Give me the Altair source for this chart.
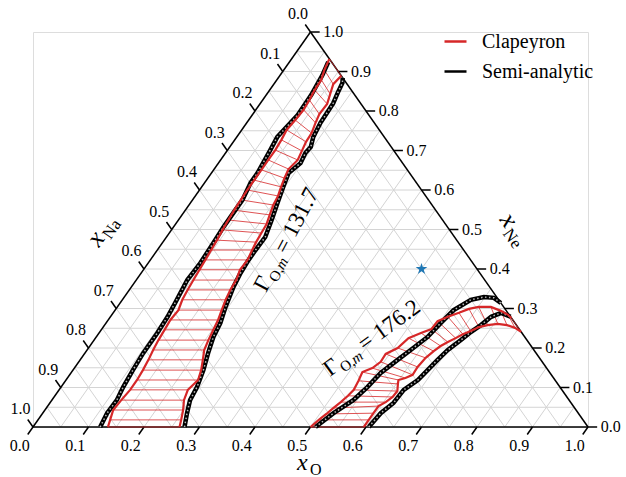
import altair as alt
import pandas as pd

FONT = "Liberation Serif"
RED = "#d62728"
W, H = 555, 395

# ---------------- data: ternary compositions (x_O, x_Ne); x_Na = 1 - x_O - x_Ne ----------------
# Gamma_O,m = 131.7 -- Clapeyron coexisting compositions (tie-line end points)
c1_left_xNe = [0.000, 0.018, 0.043, 0.068, 0.094, 0.119, 0.144, 0.170, 0.195, 0.220, 0.246, 0.271, 0.296,
               0.322, 0.347, 0.372, 0.398, 0.423, 0.448, 0.473, 0.499, 0.524, 0.549, 0.575, 0.600, 0.625,
               0.651, 0.676, 0.701, 0.727, 0.752, 0.777, 0.803, 0.828, 0.853, 0.879, 0.904, 0.932]
c1_left_xO = [0.135, 0.130, 0.123, 0.125, 0.128, 0.128, 0.126, 0.123, 0.119, 0.116, 0.114, 0.112, 0.114,
              0.108, 0.105, 0.103, 0.101, 0.099, 0.097, 0.095, 0.092, 0.090, 0.088, 0.087, 0.086, 0.086,
              0.086, 0.086, 0.086, 0.084, 0.081, 0.084, 0.086, 0.084, 0.081, 0.080, 0.073, 0.068]
c1_right_xNe = [0.000, 0.018, 0.043, 0.068, 0.094, 0.119, 0.144, 0.170, 0.195, 0.220, 0.246, 0.271, 0.296,
                0.322, 0.347, 0.372, 0.398, 0.423, 0.448, 0.468, 0.491, 0.514, 0.537, 0.562, 0.585, 0.608,
                0.630, 0.653, 0.676, 0.699, 0.722, 0.744, 0.770, 0.792, 0.818, 0.843, 0.868, 0.889]
c1_right_xO = [0.264, 0.258, 0.249, 0.238, 0.232, 0.238, 0.231, 0.221, 0.211, 0.206, 0.202, 0.198, 0.192,
               0.186, 0.182, 0.180, 0.174, 0.175, 0.171, 0.168, 0.166, 0.164, 0.158, 0.152, 0.149, 0.143,
               0.138, 0.134, 0.139, 0.135, 0.131, 0.130, 0.124, 0.120, 0.121, 0.114, 0.107, 0.111]
# Gamma_O,m = 131.7 -- semi-analytic boundaries
s1_left_xNe = [0.000, 0.035, 0.068, 0.101, 0.144, 0.187, 0.238, 0.279, 0.314, 0.372, 0.415, 0.466, 0.506,
               0.542, 0.575, 0.618, 0.643, 0.701, 0.734, 0.790, 0.841, 0.891, 0.924]
s1_left_xO = [0.121, 0.116, 0.117, 0.112, 0.108, 0.105, 0.105, 0.103, 0.099, 0.092, 0.094, 0.092, 0.090,
              0.090, 0.090, 0.083, 0.083, 0.077, 0.073, 0.082, 0.081, 0.076, 0.070]
s1_right_xNe = [0.000, 0.035, 0.068, 0.101, 0.144, 0.187, 0.228, 0.263, 0.304, 0.354, 0.390, 0.423, 0.448,
                0.481, 0.524, 0.567, 0.608, 0.643, 0.668, 0.694, 0.709, 0.734, 0.770, 0.798, 0.820, 0.846,
                0.871, 0.884]
s1_right_xO = [0.273, 0.260, 0.249, 0.245, 0.235, 0.222, 0.211, 0.206, 0.195, 0.184, 0.179, 0.177, 0.177,
               0.178, 0.168, 0.157, 0.147, 0.139, 0.148, 0.144, 0.146, 0.138, 0.133, 0.132, 0.131, 0.126,
               0.122, 0.116]

# Gamma_O,m = 176.2 -- Clapeyron coexisting compositions
c2_up_xNe = [0.000, 0.018, 0.033, 0.048, 0.063, 0.079, 0.094, 0.117, 0.139, 0.149, 0.165, 0.185, 0.200,
             0.225, 0.238, 0.248, 0.268, 0.279, 0.289, 0.299, 0.304, 0.304, 0.294, 0.284, 0.276]
c2_up_xO = [0.500, 0.506, 0.512, 0.517, 0.523, 0.528, 0.531, 0.528, 0.524, 0.537, 0.544, 0.543, 0.557,
            0.564, 0.580, 0.594, 0.595, 0.608, 0.623, 0.636, 0.651, 0.673, 0.696, 0.714, 0.724]
c2_lo_xNe = [0.000, 0.018, 0.035, 0.053, 0.063, 0.076, 0.091, 0.109, 0.119, 0.124, 0.132, 0.152, 0.175,
             0.192, 0.205, 0.215, 0.225, 0.235, 0.243, 0.253, 0.258, 0.261, 0.258, 0.251, 0.241]
c2_lo_xO = [0.596, 0.596, 0.596, 0.596, 0.604, 0.610, 0.611, 0.603, 0.599, 0.609, 0.618, 0.617, 0.620,
            0.626, 0.632, 0.640, 0.649, 0.657, 0.667, 0.677, 0.690, 0.707, 0.725, 0.743, 0.759]
# Gamma_O,m = 176.2 -- semi-analytic boundaries
s2_up_xNe = [0.000, 0.035, 0.068, 0.101, 0.137, 0.170, 0.195, 0.228, 0.263, 0.296, 0.322, 0.329, 0.327, 0.314]
s2_up_xO = [0.509, 0.524, 0.543, 0.552, 0.558, 0.572, 0.583, 0.597, 0.603, 0.610, 0.628, 0.648, 0.667, 0.686]
s2_lo_xNe = [0.000, 0.035, 0.061, 0.094, 0.119, 0.144, 0.170, 0.195, 0.220, 0.241, 0.258, 0.279, 0.289, 0.279]
s2_lo_xO = [0.605, 0.609, 0.619, 0.621, 0.634, 0.639, 0.644, 0.650, 0.661, 0.669, 0.678, 0.686, 0.699, 0.721]

star_xO = [0.5]
star_xNe = [0.4]

tick_values = [0.0, 0.1, 0.2, 0.3, 0.4, 0.5, 0.6, 0.7, 0.8, 0.9, 1.0]
tick_labels = ["0.0", "0.1", "0.2", "0.3", "0.4", "0.5", "0.6", "0.7", "0.8", "0.9", "1.0"]
grid_values = [0.05, 0.10, 0.15, 0.20, 0.25, 0.30, 0.35, 0.40, 0.45, 0.50,
               0.55, 0.60, 0.65, 0.70, 0.75, 0.80, 0.85, 0.90, 0.95]
methods = ["Clapeyron", "Semi-analytic"]


def cx(xo, xne):
    return xo + xne / 2.0


rows = []
for name, method, xo, xne in [
    ("c1a", "Clapeyron", c1_left_xO, c1_left_xNe), ("c1b", "Clapeyron", c1_right_xO, c1_right_xNe),
    ("c2a", "Clapeyron", c2_up_xO, c2_up_xNe), ("c2b", "Clapeyron", c2_lo_xO, c2_lo_xNe),
    ("s1a", "Semi-analytic", s1_left_xO, s1_left_xNe), ("s1b", "Semi-analytic", s1_right_xO, s1_right_xNe),
    ("s2a", "Semi-analytic", s2_up_xO, s2_up_xNe), ("s2b", "Semi-analytic", s2_lo_xO, s2_lo_xNe),
]:
    for i, (a, b) in enumerate(zip(xo, xne)):
        rows.append({"curve": name, "method": method, "i": i, "X": cx(a, b), "Y": b})
curves = pd.DataFrame(rows)
clap = curves[curves.method == "Clapeyron"]
semi = curves[curves.method == "Semi-analytic"]

ties = []
for xa, ya, xb, yb in [(c1_left_xO, c1_left_xNe, c1_right_xO, c1_right_xNe),
                       (c2_up_xO, c2_up_xNe, c2_lo_xO, c2_lo_xNe)]:
    for a, b, c, d in zip(xa, ya, xb, yb):
        ties.append({"X1": cx(a, b), "Y1": b, "X2": cx(c, d), "Y2": d})
ties = pd.DataFrame(ties)

# straight guide segments in one table: grid, frame and tick marks
segs = []
for v in grid_values:
    segs.append({"kind": "grid", "X1": v, "Y1": 0, "X2": v + (1 - v) / 2, "Y2": 1 - v})
    segs.append({"kind": "grid", "X1": v / 2, "Y1": v, "X2": 1 - v / 2, "Y2": v})
    segs.append({"kind": "grid", "X1": (1 - v) / 2, "Y1": 1 - v, "X2": 1 - v, "Y2": 0})
segs += [{"kind": "frame", "X1": 0, "Y1": 0, "X2": 1, "Y2": 0},
         {"kind": "frame", "X1": 0, "Y1": 0, "X2": 0.5, "Y2": 1},
         {"kind": "frame", "X1": 1, "Y1": 0, "X2": 0.5, "Y2": 1}]
s = 0.019
sh = 0.0165
lab_b, lab_r, lab_l = [], [], []
for v, t in zip(tick_values, tick_labels):
    segs.append({"kind": "tick", "X1": v, "Y1": 0, "X2": v - s / 2, "Y2": -s})
    segs.append({"kind": "tick", "X1": 1 - v / 2, "Y1": v, "X2": 1 - v / 2 + sh, "Y2": v})
    segs.append({"kind": "tick", "X1": (1 - v) / 2, "Y1": 1 - v, "X2": (1 - v) / 2 - s / 2, "Y2": 1 - v + s})
    lab_b.append({"X": v - 0.024, "Y": -0.048, "t": t})
    lab_r.append({"X": 1 - v / 2 + 0.023, "Y": v, "t": t})
    lab_l.append({"X": (1 - v) / 2 - 0.0225, "Y": 1 - v + 0.045, "t": t})
segs = pd.DataFrame(segs)
lab_b, lab_r, lab_l = pd.DataFrame(lab_b), pd.DataFrame(lab_r), pd.DataFrame(lab_l)

star = pd.DataFrame({"X": [cx(a, b) for a, b in zip(star_xO, star_xNe)], "Y": star_xNe})

xs = alt.Scale(domain=[0, 1], nice=False, zero=False)
ys = alt.Scale(domain=[0, 1], nice=False, zero=False)


def seg_layer(df, kind=None, **mk):
    ch = alt.Chart(df)
    if kind is not None:
        ch = ch.transform_filter(alt.datum.kind == kind)
    return ch.mark_rule(**mk).encode(
        x=alt.X("X1:Q", scale=xs, axis=None), y=alt.Y("Y1:Q", scale=ys, axis=None),
        x2="X2:Q", y2="Y2:Q")


def labels(df, align):
    return alt.Chart(df).mark_text(font=FONT, fontSize=16, align=align, baseline="middle",
                                   color="black").encode(
        x=alt.X("X:Q", scale=xs, axis=None), y=alt.Y("Y:Q", scale=ys, axis=None), text="t:N")


color = alt.Color("method:N", scale=alt.Scale(domain=methods, range=[RED, "black"]),
                  legend=alt.Legend(orient="none", legendX=410, legendY=-3, title=None,
                                    symbolType="stroke", symbolSize=484, symbolStrokeWidth=2.5,
                                    labelFont=FONT, labelFontSize=20, labelOffset=14,
                                    rowPadding=7, padding=0, labelColor="black"))

semi_base = alt.Chart(semi).mark_line(strokeWidth=4.5).encode(
    x=alt.X("X:Q", scale=xs, axis=None), y=alt.Y("Y:Q", scale=ys, axis=None),
    detail="curve:N", order="i:Q", color=color)
semi_dots = alt.Chart(semi).mark_line(strokeWidth=1.5, color="#b8b8b8", strokeDash=[1.5, 2.5]).encode(
    x=alt.X("X:Q", scale=xs, axis=None), y=alt.Y("Y:Q", scale=ys, axis=None),
    detail="curve:N", order="i:Q")
clap_line = alt.Chart(clap).mark_line(strokeWidth=2.2).encode(
    x=alt.X("X:Q", scale=xs, axis=None), y=alt.Y("Y:Q", scale=ys, axis=None),
    detail="curve:N", order="i:Q", color=color)

STAR = ("M0,-1L0.2245,-0.309L0.951,-0.309L0.363,0.118L0.588,0.809L0,0.382"
        "L-0.588,0.809L-0.363,0.118L-0.951,-0.309L-0.2245,-0.309Z")
star_mark = alt.Chart(star).mark_point(shape=STAR, size=150, filled=True, color="#1f77b4",
                                       opacity=1).encode(
    x=alt.X("X:Q", scale=xs, axis=None), y=alt.Y("Y:Q", scale=ys, axis=None))

one = pd.DataFrame({"k": [0]})


def txt(s_, x, y, size, angle=None, dx=0, dy=0, italic=False):
    kw = dict(text=s_, font=FONT, fontSize=size, dx=dx, dy=dy, align="left",
              baseline="alphabetic", color="black")
    if angle is not None:
        kw["angle"] = angle
    if italic:
        kw["fontStyle"] = "italic"
    return alt.Chart(one).mark_text(**kw).encode(x=alt.value(x), y=alt.value(y))


def gamma_label(value, x, y, angle):
    return [txt("Γ", x, y, 23, angle),
            txt("O,", x, y, 15, angle, dx=14, dy=5),
            txt("m", x, y, 15, angle, dx=28, dy=5, italic=True),
            txt("= " + value, x, y, 23, angle, dx=43)]


annots = (gamma_label("131.7", 233, 261, 298) + gamma_label("176.2", 297, 345, 324) +
          [txt("x", 66, 216, 26, 305, italic=True), txt("Na", 66, 216, 17, 305, dx=13, dy=5),
           txt("x", 466, 188, 26, 55, italic=True), txt("Ne", 466, 188, 17, 55, dx=13, dy=5),
           txt("x", 264, 438, 24, italic=True), txt("O", 264, 438, 16, dx=13, dy=5)])

chart = alt.layer(
    seg_layer(segs, "grid", color="#d4d4d4", strokeWidth=1),
    seg_layer(segs, "frame", color="black", strokeWidth=1.5),
    seg_layer(segs, "tick", color="black", strokeWidth=1.5),
    labels(lab_b, "center"), labels(lab_r, "left"), labels(lab_l, "center"),
    seg_layer(ties, color=RED, strokeWidth=0.8),
    semi_base, semi_dots, clap_line, star_mark,
    *annots,
).properties(
    width=W, height=H,
    autosize=alt.AutoSizeParams(type="none"),
    padding={"left": 33, "top": 32, "right": 626 - 33 - W, "bottom": 477 - 32 - H},
).configure_view(stroke=None).configure(background="white")

chart.save("out.html", embed_options={"renderer": "svg", "actions": False})
